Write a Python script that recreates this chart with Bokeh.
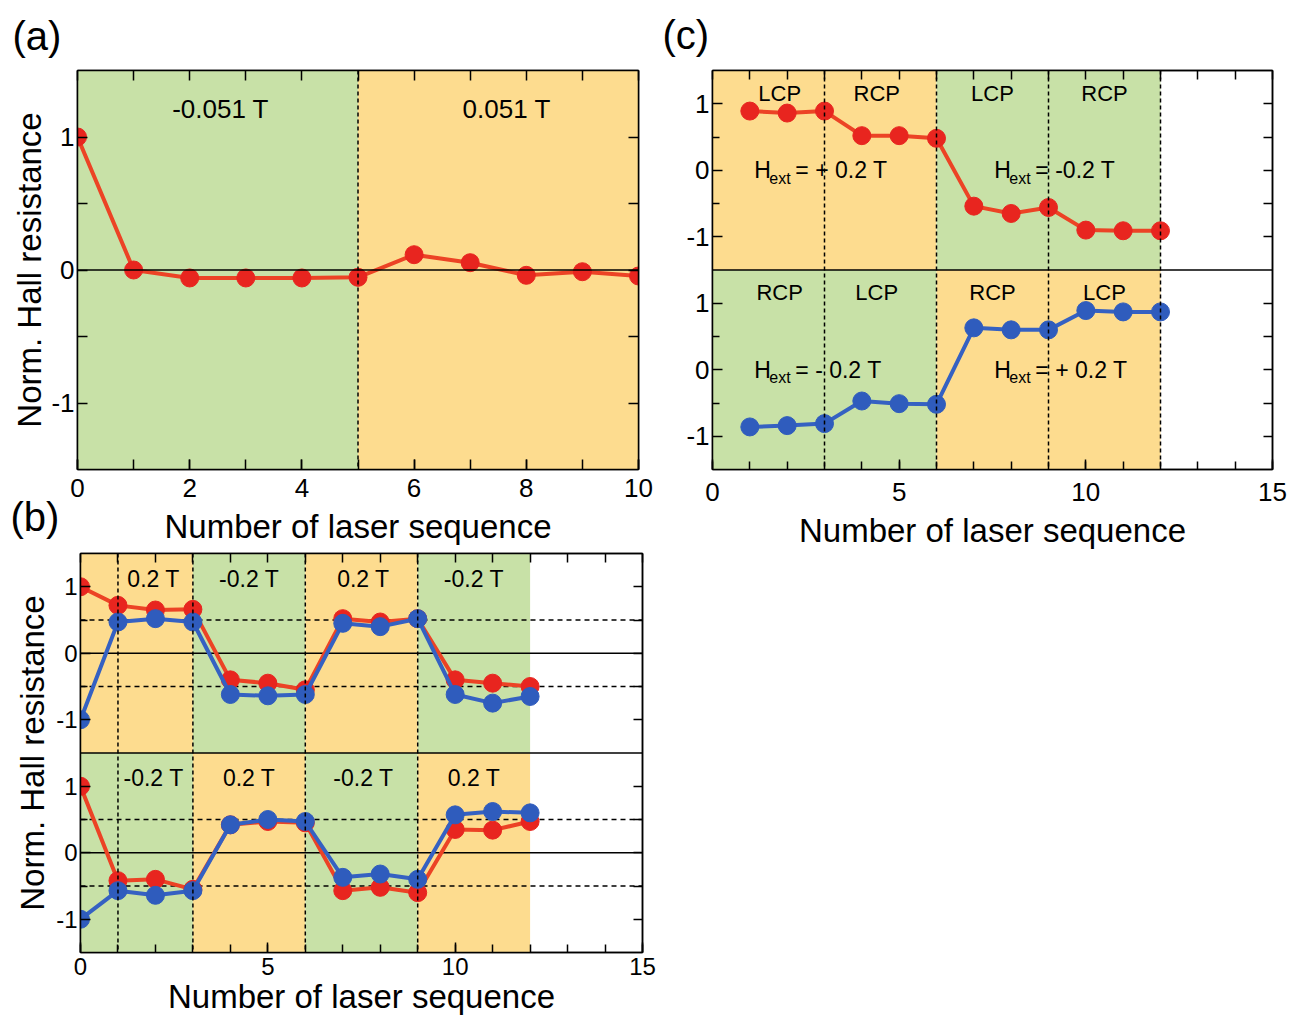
from bokeh.plotting import figure
from bokeh.models import Range1d, LinearAxis, FixedTicker, Span, Title
from bokeh.layouts import row, column
from bokeh.core.properties import value
from bokeh.embed import file_html
from bokeh.resources import INLINE

FONT = "Liberation Sans"
GREEN = "#c8e1a7"
YELLOW = "#fddc8f"
RED = "#e8251f"
RED_LINE = "#ec4325"
BLUE = "#2f5cbd"
BLUE_LINE = "#3561c2"

# ---------------- data ----------------
# panel (a)
a_x = list(range(11))
a_y = [1.0, 0.0, -0.06, -0.06, -0.06, -0.055, 0.115, 0.055, -0.04, -0.013, -0.045]
a_shade_left = [0, 5]
a_shade_right = [5, 10]
a_shade_color = [GREEN, YELLOW]
a_vlines = [5]
a_field_x = [2.55, 7.65]
a_field_y = [1.21, 1.21]
a_field_text = ["-0.051 T", "0.051 T"]
a_xticks = [0, 2, 4, 6, 8, 10]
a_yticks = [-1, 0, 1]

# panel (b)
b_x = list(range(13))
b_top_red = [1.0, 0.72, 0.65, 0.66, -0.40, -0.45, -0.55, 0.52, 0.47, 0.52, -0.40, -0.45, -0.50]
b_top_blue = [-1.0, 0.47, 0.52, 0.47, -0.62, -0.64, -0.62, 0.45, 0.40, 0.52, -0.62, -0.75, -0.65]
b_bot_red = [1.0, -0.42, -0.40, -0.55, 0.42, 0.47, 0.45, -0.57, -0.52, -0.60, 0.35, 0.34, 0.47]
b_bot_blue = [-1.0, -0.57, -0.64, -0.57, 0.42, 0.50, 0.47, -0.37, -0.32, -0.40, 0.57, 0.62, 0.60]
b_shade_left = [0, 3, 6, 9]
b_shade_right = [3, 6, 9, 12]
b_top_colors = [YELLOW, GREEN, YELLOW, GREEN]
b_bot_colors = [GREEN, YELLOW, GREEN, YELLOW]
b_vlines = [1, 3, 6, 9]
b_hdash = [0.5, -0.5]
b_field_x = [1.95, 4.5, 7.55, 10.5]
b_field_y = [1.12, 1.12, 1.12, 1.12]
b_top_text = ["0.2 T", "-0.2 T", "0.2 T", "-0.2 T"]
b_bot_text = ["-0.2 T", "0.2 T", "-0.2 T", "0.2 T"]

# panel (c)
c_x = list(range(1, 13))
c_top = [0.89, 0.86, 0.89, 0.52, 0.52, 0.48, -0.54, -0.65, -0.56, -0.90, -0.91, -0.91]
c_bot = [-0.86, -0.84, -0.81, -0.47, -0.51, -0.52, 0.63, 0.60, 0.60, 0.89, 0.87, 0.87]
c_shade_left = [0, 6]
c_shade_right = [6, 12]
c_top_colors = [YELLOW, GREEN]
c_bot_colors = [GREEN, YELLOW]
c_vlines = [3, 6, 9, 12]
c_pol_x = [1.8, 4.4, 7.5, 10.5]
c_pol_y = [1.16, 1.16, 1.16, 1.16]
c_top_pol = ["LCP", "RCP", "LCP", "RCP"]
c_bot_pol = ["RCP", "LCP", "RCP", "LCP"]
c_h_x = [1.12, 7.55]
c_h_y = [0.0, 0.0]
c_top_h = ["= + 0.2 T", "= -0.2 T"]
c_bot_h = ["= - 0.2 T", "= + 0.2 T"]

x15_ticks = [0, 5, 10, 15]
x15_minor = list(range(16))
sub_yticks = [-1, 0, 1]
sub_minor = [-0.5, 0.5]
SUB_RANGE = (-1.5, 1.5)
SHIFT = SUB_RANGE[1] - SUB_RANGE[0]   # vertical shift of the lower sub-panel

XLABEL = "Number of laser sequence"
YLABEL = "Norm. Hall resistance"


def style_axis(ax, tick_px, label_px=33, tick_len=10, minor_len=10):
    ax.axis_line_color = "black"
    ax.axis_line_width = 1.5
    ax.major_tick_in = tick_len
    ax.major_tick_out = 0
    ax.minor_tick_in = minor_len
    ax.minor_tick_out = 0
    ax.major_tick_line_width = 1.5
    ax.minor_tick_line_width = 1.5
    ax.major_tick_line_color = "black"
    ax.minor_tick_line_color = "black"
    ax.major_label_text_font = FONT
    ax.major_label_text_color = "black"
    ax.major_label_text_font_size = f"{tick_px}px"
    ax.major_label_standoff = 3
    ax.axis_label_text_font = FONT
    ax.axis_label_text_font_size = f"{label_px}px"
    ax.axis_label_text_font_style = "normal"
    ax.axis_label_text_color = "black"


def mirror_axis(p, side, positions, length):
    """Unlabelled mirrored axis: all ticks drawn as minor ticks (no label texts)."""
    ax = LinearAxis(ticker=FixedTicker(ticks=[], minor_ticks=positions))
    ax.axis_line_color = "black"
    ax.axis_line_width = 1.5
    ax.minor_tick_in = length
    ax.minor_tick_out = 0
    ax.minor_tick_line_width = 1.5
    ax.minor_tick_line_color = "black"
    ax.major_tick_in = 0
    ax.major_tick_out = 0
    ax.major_label_standoff = 0
    p.add_layout(ax, side)
    return ax


def panel_title(text, offset, standoff, valign):
    t = Title(text=text, align="left", offset=offset, vertical_align=valign,
              text_font=FONT, text_font_size="40px", text_font_style="normal",
              text_color="black")
    ok = True
    try:
        t.standoff = standoff
    except Exception:
        ok = False
    return t, ok


def base_fig(w, h, xr, yr, bl, br, bt, bb):
    p = figure(width=w, height=h, x_range=Range1d(*xr), y_range=Range1d(*yr),
               output_backend="svg", toolbar_location=None,
               min_border_left=bl, min_border_right=br,
               min_border_top=bt, min_border_bottom=bb)
    p.xgrid.visible = False
    p.ygrid.visible = False
    p.outline_line_color = "black"
    p.outline_line_width = 1.5
    p.background_fill_color = "white"
    p.border_fill_color = "white"
    return p


def series(p, x, y, line_color, color, rname="default"):
    p.line(x, y, line_color=line_color, line_width=4, y_range_name=rname)
    p.scatter(x, y, marker="circle", size=18, fill_color=color, line_color=color,
              y_range_name=rname)


# ---------------- panel (a) ----------------
pa = base_fig(660, 552, (0, 10), SUB_RANGE, 77, 22, 68, 83)
pa.quad(left=a_shade_left, right=a_shade_right, bottom=SUB_RANGE[0], top=SUB_RANGE[1],
        fill_color=a_shade_color, line_color=None)
for xv in a_vlines:
    pa.add_layout(Span(location=xv, dimension="height", line_color="black",
                       line_width=1.5, line_dash="4 3"))
pa.add_layout(Span(location=0, dimension="width", line_color="black", line_width=1.5))
series(pa, a_x, a_y, RED_LINE, RED)
pa.text(x=a_field_x, y=a_field_y, text=a_field_text, text_font=value(FONT),
        text_font_size="26px", text_align="center", text_baseline="middle",
        text_color="black")
xa = pa.xaxis[0]
ya = pa.yaxis[0]
xa.ticker = FixedTicker(ticks=a_xticks, minor_ticks=a_x)
ya.ticker = FixedTicker(ticks=a_yticks, minor_ticks=sub_minor)
style_axis(xa, 26)
style_axis(ya, 26)
ya.major_label_overrides = {t: str(t) for t in a_yticks}
xa.axis_label = XLABEL
ya.axis_label = YLABEL
xa.major_label_standoff = 9
xa.axis_label_standoff = 8
ya.axis_label_standoff = 0
mirror_axis(pa, "right", a_yticks + sub_minor, 10)
mirror_axis(pa, "above", a_x, 10)
t_a, _ = panel_title("(a)", -65, 21, "top")
pa.add_layout(t_a, "above")
# label of panel (b): sits in the bottom-left corner of this canvas, beside the x-axis label
t_b, ok_b = panel_title("(b)", -67, -105, "top")
if ok_b:
    pa.add_layout(t_b, "below")


# ---------------- helper for two stacked sub-panels ----------------
def stacked(w, h, bl, br, bt, bb, tick_px):
    # default range: upper sub-panel; "bot": lower sub-panel
    p = base_fig(w, h, (0, 15), (SUB_RANGE[0] - SHIFT, SUB_RANGE[1]), bl, br, bt, bb)
    p.extra_y_ranges = {"bot": Range1d(SUB_RANGE[0], SUB_RANGE[1] + SHIFT)}
    ticks = sub_yticks + [t - SHIFT for t in sub_yticks]
    minors = sub_minor + [t - SHIFT for t in sub_minor]
    overrides = {t: str(t) for t in sub_yticks}
    overrides.update({t - SHIFT: str(t) for t in sub_yticks})
    yx = p.yaxis[0]
    xx = p.xaxis[0]
    yx.ticker = FixedTicker(ticks=ticks, minor_ticks=minors)
    yx.major_label_overrides = overrides
    style_axis(yx, tick_px, minor_len=7)
    xx.ticker = FixedTicker(ticks=x15_ticks, minor_ticks=x15_minor)
    style_axis(xx, tick_px, minor_len=8)
    xx.axis_label = XLABEL
    mirror_axis(p, "right", ticks + minors, 9)
    mirror_axis(p, "above", x15_minor, 9)
    return p, xx, yx


def shade(p, left, right, colors, rname):
    p.quad(left=left, right=right, bottom=SUB_RANGE[0], top=SUB_RANGE[1],
           fill_color=colors, line_color=None, y_range_name=rname)


def hline(p, yv, rname, dash="solid"):
    p.segment(x0=0, x1=15, y0=yv, y1=yv, line_color="black", line_width=1.5,
              line_dash=dash, y_range_name=rname)


# ---------------- panel (b) ----------------
pb, xb, yb = stacked(660, 465, 80, 18, 1, 64, 24)
shade(pb, b_shade_left, b_shade_right, b_top_colors, "default")
shade(pb, b_shade_left, b_shade_right, b_bot_colors, "bot")
for rn in ("default", "bot"):
    hline(pb, 0, rn)
    for yv in b_hdash:
        hline(pb, yv, rn, "5 4")
hline(pb, SUB_RANGE[0], "default")
for xv in b_vlines:
    pb.add_layout(Span(location=xv, dimension="height", line_color="black",
                       line_width=1.5, line_dash="4 3"))
series(pb, b_x, b_top_red, RED_LINE, RED, "default")
series(pb, b_x, b_top_blue, BLUE_LINE, BLUE, "default")
series(pb, b_x, b_bot_red, RED_LINE, RED, "bot")
series(pb, b_x, b_bot_blue, BLUE_LINE, BLUE, "bot")
pb.text(x=b_field_x, y=b_field_y, text=b_top_text, text_font=value(FONT),
        text_font_size="23px", text_align="center", text_baseline="middle",
        text_color="black")
pb.text(x=b_field_x, y=b_field_y, text=b_bot_text, text_font=value(FONT),
        text_font_size="23px", text_align="center", text_baseline="middle",
        text_color="black", y_range_name="bot")
xb.major_label_standoff = 5
xb.axis_label_standoff = 0
yb.axis_label = YLABEL
yb.axis_label_standoff = 2

# ---------------- panel (c) ----------------
pc, xc, yc = stacked(634, 552, 52, 22, 70, 80, 26)
shade(pc, c_shade_left, c_shade_right, c_top_colors, "default")
shade(pc, c_shade_left, c_shade_right, c_bot_colors, "bot")
hline(pc, SUB_RANGE[0], "default")
for xv in c_vlines:
    pc.add_layout(Span(location=xv, dimension="height", line_color="black",
                       line_width=1.5, line_dash="4 3"))
series(pc, c_x, c_top, RED_LINE, RED, "default")
series(pc, c_x, c_bot, BLUE_LINE, BLUE, "bot")
for rn, pol, htxt in (("default", c_top_pol, c_top_h), ("bot", c_bot_pol, c_bot_h)):
    pc.text(x=c_pol_x, y=c_pol_y, text=pol, text_font=value(FONT),
            text_font_size="22px", text_align="center", text_baseline="middle",
            text_color="black", y_range_name=rn)
    pc.text(x=c_h_x, y=c_h_y, text=["H", "H"], text_font=value(FONT),
            text_font_size="23px", text_align="left", text_baseline="middle",
            text_color="black", y_range_name=rn)
    pc.text(x=c_h_x, y=c_h_y, text=["ext", "ext"], text_font=value(FONT),
            text_font_size="16px", text_align="left", text_baseline="middle",
            x_offset=15, y_offset=8, text_color="black", y_range_name=rn)
    pc.text(x=c_h_x, y=c_h_y, text=htxt, text_font=value(FONT),
            text_font_size="23px", text_align="left", text_baseline="middle",
            x_offset=41, text_color="black", y_range_name=rn)
xc.major_label_standoff = 13
xc.axis_label_standoff = 8
t_c, _ = panel_title("(c)", -50, 23, "top")
pc.add_layout(t_c, "above")

layout = column(row(pa, pc), pb)
open("out.html", "w").write(file_html(layout, INLINE))
